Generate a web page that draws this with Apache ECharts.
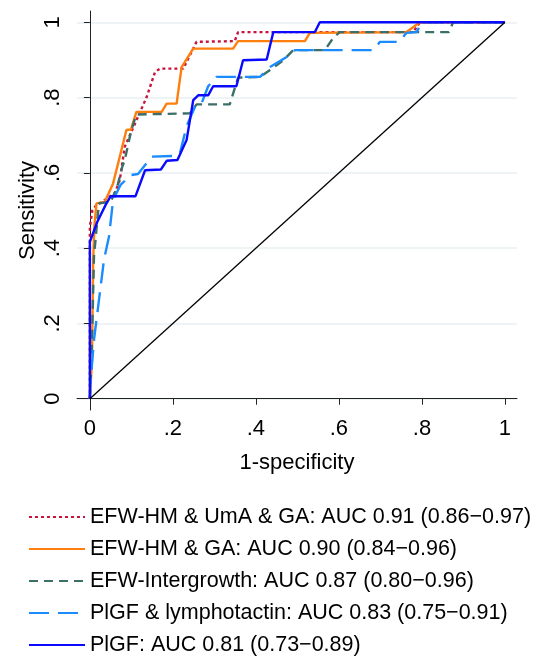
<!DOCTYPE html>
<html>
<head>
	<meta charset="UTF-8">
	<title>ROC curves</title>
	<script src="https://cdn.jsdelivr.net/npm/echarts@6/dist/echarts.min.js"></script>
	<style>
		body { margin: 0; background: #fff; }
	</style>
</head>
<body>
<div id="main" style="width: 536px;height:659px;"></div>
<script type="text/javascript">
	// tick values on both axes
	var ticks = [0, 0.2, 0.4, 0.6, 0.8, 1];

	// [1-specificity, sensitivity]
	var umaCurve = [[0,0],[0,0.457],[0.006,0.5],[0.016,0.515],[0.024,0.519],[0.06,0.546],[0.072,0.58],[0.084,0.669],[0.116,0.749],[0.137,0.802],[0.157,0.868],[0.169,0.877],[0.225,0.877],[0.257,0.948],[0.349,0.95],[0.357,0.974],[0.779,0.974],[0.795,1],[1,1]];
	var hmCurve = [[0,0],[0.005,0.1],[0.008,0.37],[0.011,0.46],[0.016,0.519],[0.036,0.523],[0.056,0.572],[0.072,0.643],[0.088,0.714],[0.099,0.715],[0.112,0.762],[0.173,0.762],[0.185,0.784],[0.209,0.784],[0.221,0.881],[0.249,0.93],[0.345,0.93],[0.357,0.95],[0.518,0.95],[0.53,0.972],[0.763,0.974],[0.795,1],[1,1]];
	var igCurve = [[0,0],[0.004,0.1],[0.01,0.38],[0.014,0.426],[0.018,0.475],[0.022,0.519],[0.05,0.523],[0.066,0.563],[0.078,0.616],[0.084,0.634],[0.1,0.714],[0.112,0.755],[0.241,0.758],[0.257,0.782],[0.337,0.782],[0.357,0.853],[0.41,0.855],[0.434,0.873],[0.466,0.899],[0.49,0.926],[0.566,0.926],[0.586,0.958],[0.602,0.974],[0.865,0.974],[0.875,1],[1,1]];
	var lymCurve = [[0,0],[0.002,0.05],[0.01,0.157],[0.022,0.263],[0.034,0.369],[0.046,0.43],[0.056,0.528],[0.074,0.568],[0.098,0.594],[0.116,0.597],[0.149,0.643],[0.205,0.645],[0.217,0.652],[0.233,0.724],[0.255,0.78],[0.269,0.784],[0.285,0.83],[0.305,0.855],[0.41,0.855],[0.434,0.881],[0.474,0.908],[0.494,0.926],[0.683,0.926],[0.699,0.948],[0.745,0.948],[0.763,0.972],[0.787,0.974],[0.8,1],[1,1]];
	var plgfCurve = [[0,0],[0,0.417],[0.018,0.47],[0.038,0.515],[0.05,0.538],[0.11,0.538],[0.133,0.607],[0.171,0.609],[0.185,0.632],[0.211,0.634],[0.233,0.687],[0.249,0.793],[0.261,0.806],[0.285,0.806],[0.297,0.83],[0.353,0.83],[0.369,0.899],[0.426,0.901],[0.442,0.974],[0.542,0.974],[0.554,1],[1,1]];
	var refLine = [[0,0],[1,1]];

	var names = [
		'EFW-HM & UmA & GA: AUC 0.91 (0.86\u22120.97)',
		'EFW-HM & GA: AUC 0.90 (0.84\u22120.96)',
		'EFW-Intergrowth: AUC 0.87 (0.80\u22120.96)',
		'PlGF & lymphotactin: AUC 0.83 (0.75\u22120.91)',
		'PlGF: AUC 0.81 (0.73\u22120.89)'
	];

	var font = 'Liberation Sans, Arial, Helvetica, sans-serif';

	function tickText(v) {
		if (v === 0) return '0';
		if (v === 1) return '1';
		return String(v).replace('0.', '.');
	}

	function curve(name, data, color, dash) {
		return {
			name: name,
			type: 'line',
			data: data,
			symbol: 'none',
			silent: true,
			lineStyle: { color: color, width: 2.4, type: dash },
			itemStyle: { color: color }
		};
	}

	var myChart = echarts.init(document.getElementById('main'));

	var option = {
		animation: false,
		backgroundColor: '#fff',
		textStyle: { fontFamily: font },
		grid: { left: 77, right: 19, top: 11, bottom: 249 },
		legend: {
			orient: 'vertical',
			left: 28,
			top: 506,
			padding: 0,
			itemWidth: 56,
			itemHeight: 14,
			itemGap: 10,
			data: names,
			itemStyle: { opacity: 0 },
			textStyle: { fontSize: 21.5, color: '#000', fontFamily: font, lineHeight: 22 }
		},
		xAxis: {
			type: 'value',
			min: -0.031,
			max: 1.029,
			name: '1-specificity',
			nameLocation: 'middle',
			nameGap: 42,
			nameMoveOverlap: false,
			nameTextStyle: { fontSize: 22, color: '#000' },
			axisLine: { lineStyle: { color: '#222', width: 1 } },
			axisTick: { show: true, length: 6, customValues: ticks, lineStyle: { color: '#222' } },
			axisLabel: { customValues: ticks, formatter: tickText, fontSize: 22, color: '#000', margin: 8 },
			splitLine: { show: false }
		},
		yAxis: {
			type: 'value',
			min: -0.03,
			max: 1.03,
			name: 'Sensitivity',
			nameLocation: 'middle',
			nameGap: 38,
			nameMoveOverlap: false,
			nameTextStyle: { fontSize: 22, color: '#000' },
			axisLine: { show: true, lineStyle: { color: '#222', width: 1 } },
			axisTick: { show: true, length: 6, customValues: ticks, lineStyle: { color: '#222' } },
			axisLabel: { customValues: ticks, formatter: tickText, fontSize: 22, color: '#000', rotate: 90, margin: 13 },
			splitLine: { show: true, lineStyle: { color: '#e8eff2', width: 1.5 } }
		},
		series: [
			curve(names[0], umaCurve, '#c8133c', [3, 3]),
			curve(names[1], hmCurve, '#ff7f0e', 'solid'),
			curve(names[2], igCurve, '#3b6f67', [9, 6]),
			curve(names[3], lymCurve, '#1a8cff', [20, 9]),
			curve(names[4], plgfCurve, '#0a0aff', 'solid'),
			{
				type: 'line',
				data: refLine,
				symbol: 'none',
				silent: true,
				lineStyle: { color: '#000', width: 1.3 }
			}
		]
	};

	myChart.setOption(option);
</script>
</body>
</html>
